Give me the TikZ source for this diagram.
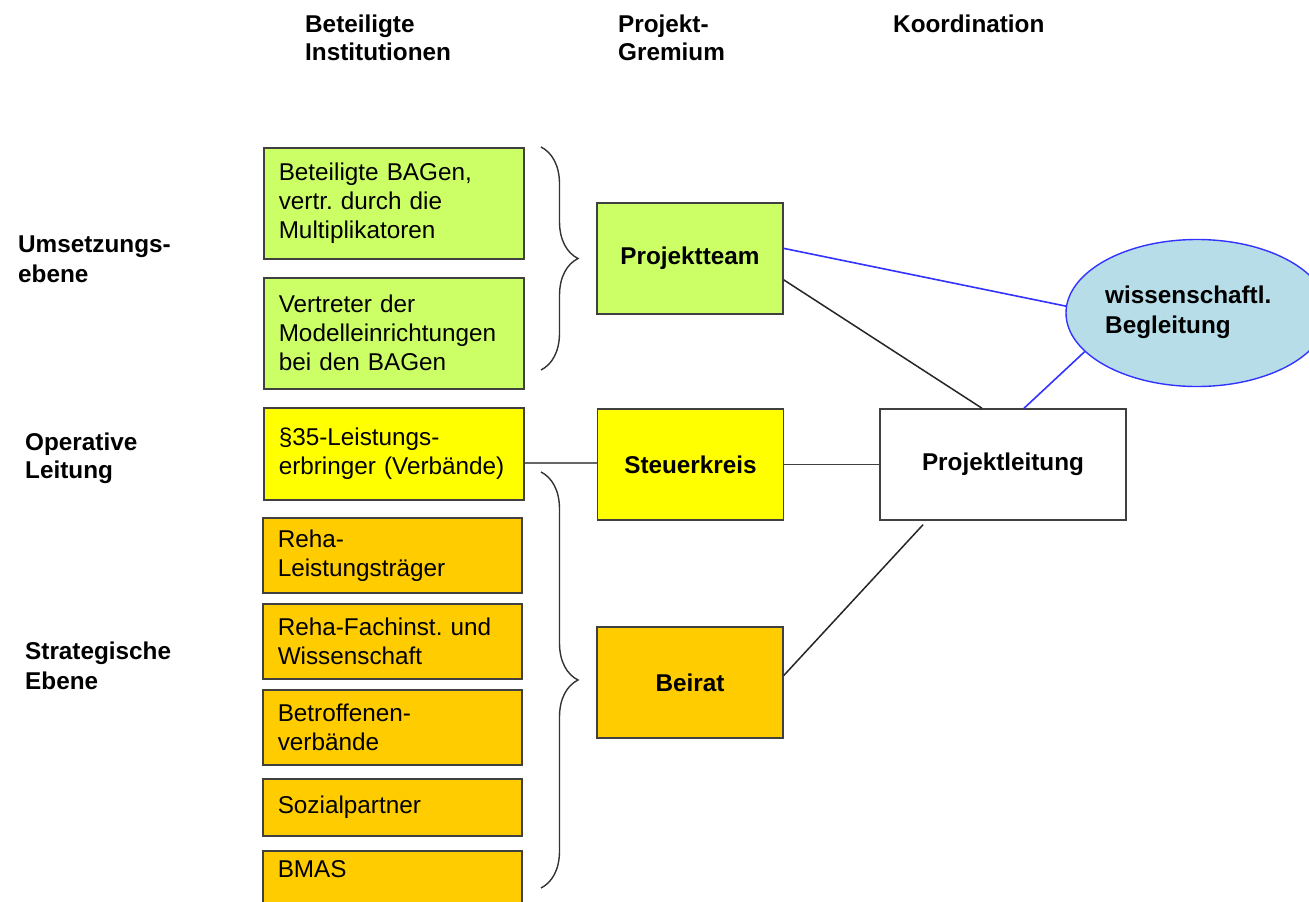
\documentclass[tikz,border=0pt]{standalone}
\usepackage{fontspec}
\setmainfont{Liberation Sans}
\usetikzlibrary{shapes.geometric,decorations.pathreplacing,calc}
\definecolor{grn}{HTML}{CCFF66}
\definecolor{ylw}{HTML}{FFFF00}
\definecolor{org}{HTML}{FFCC00}
\definecolor{lblue}{HTML}{B7DEE8}
\definecolor{bline}{HTML}{3333FF}
\frenchspacing
\begin{document}
\begin{tikzpicture}[x=1pt,y=-1pt,
  every node/.style={font=\fontsize{24.3}{29}\selectfont},
  inst/.style={draw=black!75,line width=1.5pt,anchor=north west,align=left,
    text width=230pt,inner xsep=15pt,inner ysep=0pt},
  grem/.style={draw=black!75,line width=1.5pt,minimum width=186pt,minimum height=111pt,
    font=\fontsize{24.3}{29}\selectfont\bfseries},
  hdr/.style={anchor=base west,align=left,inner sep=0pt,
    font=\fontsize{24.3}{28}\selectfont\bfseries},
  conn/.style={draw=black!85,line width=1.5pt},
  bconn/.style={draw=bline,line width=1.6pt},
  brc/.style={draw=black!80,line width=1.4pt,decorate,decoration={brace,amplitude=37pt}}]
\useasboundingbox[fill=white] (0,0) rectangle (1309,902);

% headers (anchor at baseline of last line)
\node[hdr] (h1) at (305,60) {Beteiligte\\Institutionen};
\node[hdr] (h2) at (618,60) {Projekt-\\Gremium};
\node[hdr] (h3) at (893,32) {Koordination};

% level labels
\node[hdr,font=\fontsize{24.3}{30}\selectfont\bfseries] (l1) at (18,282) {Umsetzungs-\\ebene};
\node[hdr,font=\fontsize{24.3}{28}\selectfont\bfseries] (l2) at (25,478) {Operative\\Leitung};
\node[hdr,font=\fontsize{24.3}{30}\selectfont\bfseries] (l3) at (25,689) {Strategische\\Ebene};

% institutions
\node[inst,fill=grn,minimum height=111pt] (b1) at (263,147) {Beteiligte BAGen,\\vertr. durch die\\Multiplikatoren};
\node[inst,fill=grn,minimum height=111pt] (b2) at (263,277) {Vertreter der\\Modelleinrichtungen\\bei den BAGen};
\node[inst,fill=ylw,minimum height=92pt] (b3) at (263,407) {§35-Leistungs-\\erbringer (Verbände)};
\node[inst,fill=org,minimum height=75pt,text width=229pt] (b4) at (262,517) {Reha-\\Leistungsträger};
\node[inst,fill=org,minimum height=75pt,text width=229pt] (b5) at (262,603) {Reha-Fachinst. und\\Wissenschaft};
\node[inst,fill=org,minimum height=75pt,text width=229pt] (b6) at (262,689) {Betroffenen-\\verbände};
\node[inst,fill=org,minimum height=57pt,text width=229pt] (b7) at (262,778) {Sozialpartner};
\node[inst,fill=org,minimum height=62pt,text width=229pt,text depth=25pt] (b8) at (262,850) {BMAS};

% braces
\draw[brc] (541,147) -- (541,370);
\draw[brc] (541,472) -- (541,888);

% gremien
\node[grem,fill=grn] (pt) at (690,258.5) {Projektteam};
\node[grem,fill=ylw] (sk) at (690.5,464.5) {Steuerkreis};
\node[grem,fill=org] (br) at (690,682.5) {Beirat};

% coordination
\node[grem,fill=white,minimum width=246pt] (pl) at (1003,464.5) {Projektleitung};
\node[ellipse,draw=bline,line width=1.4pt,fill=lblue,minimum width=262pt,minimum height=147pt] (wb) at (1197,313) {};
\node[hdr,font=\fontsize{24.3}{30}\selectfont\bfseries] (wbt) at (1105,333) {wissenschaftl.\\Begleitung};

% connectors
\draw[bconn] ($(pt.north east)!0.41!(pt.south east)$) -- (wb.177);
\draw[conn] ($(pt.north east)!0.69!(pt.south east)$) -- ($(pl.north)+(-21,0)$);
\draw[bconn] ($(pl.north)+(21,0)$) -- (wb.199);
\draw[conn,draw=black!75,line width=1.8pt] (sk.east) -- (pl.west);
\coordinate (c35) at ($(b3.north east)!0.6!(b3.south east)$);
\draw[conn,draw=black!60,line width=1.7pt] (c35) -- (c35 -| sk.west);
\draw[conn] ($(br.east)+(0,-7)$) -- ($(pl.south)+(-80,4)$);
\end{tikzpicture}
\end{document}
